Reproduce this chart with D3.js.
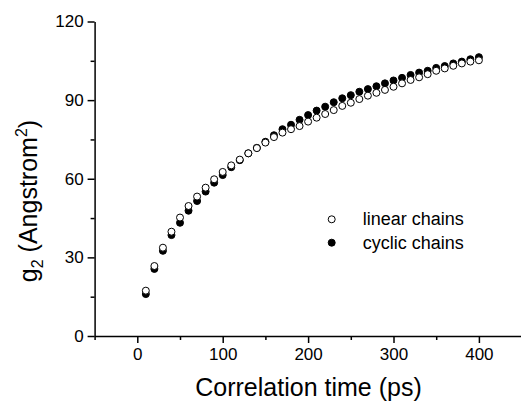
<!DOCTYPE html>
<html>
<head>
<meta charset="utf-8">
<script src="https://cdn.jsdelivr.net/npm/d3@7"></script>
<style>
    body { margin: 0; background: white; }
    text { font-family: Arial, "Liberation Sans", sans-serif; fill: black; }
</style>
</head>
<body>
<div id="wrapper"></div>
<script>
// correlation time (ps)
const times = [10, 20, 30, 40, 50, 60, 70, 80, 90, 100,
    110, 120, 130, 140, 150, 160, 170, 180, 190, 200,
    210, 220, 230, 240, 250, 260, 270, 280, 290, 300,
    310, 320, 330, 340, 350, 360, 370, 380, 390, 400];
// g2 values
const linearChains = [17.3, 26.7, 33.7, 39.8, 45.2, 49.6, 53.2, 56.6, 59.8, 62.6,
    65.1, 67.3, 69.7, 71.7, 73.8, 75.9, 77.6, 78.9, 80.1, 81.8,
    83.3, 84.7, 86.2, 87.8, 89.0, 90.4, 91.7, 92.8, 93.9, 95.1,
    96.4, 97.7, 98.7, 99.9, 101.2, 102.1, 103.1, 104.0, 104.7, 105.2];
const cyclicChains = [16.0, 25.6, 32.5, 38.5, 43.2, 47.8, 51.5, 55.1, 58.5, 61.4,
    64.4, 67.1, 69.7, 71.8, 74.1, 76.6, 78.9, 80.6, 82.5, 84.3,
    86.0, 87.5, 89.2, 90.7, 91.9, 93.2, 94.2, 95.3, 96.4, 97.5,
    98.5, 99.6, 100.5, 101.2, 102.3, 103.0, 104.0, 104.7, 105.6, 106.4];
const xTicks = [0, 100, 200, 300, 400];
const xMinorTicks = [-50, 50, 150, 250, 350, 450];
const yTicks = [0, 30, 60, 90, 120];
const yMinorTicks = [15, 45, 75, 105];
const seriesNames = ["linear chains", "cyclic chains"];

function buildPlot() {
    const dimension = {
        width: 521,
        height: 401,
        left: 94.6,
        right: 521.6,
        top: 21.5,
        bottom: 336
    };

    const svg = d3.select("#wrapper").append("svg")
        .attr("width", dimension.width)
        .attr("height", dimension.height);

    const xScaler = d3.scaleLinear()
        .domain([-50, 450])
        .range([dimension.left, dimension.right]);

    const yScaler = d3.scaleLinear()
        .domain([0, 120])
        .range([dimension.bottom, dimension.top]);

    // minor ticks first, then major axis on top
    const xMinor = svg.append("g")
        .attr("transform", `translate(0,${dimension.bottom})`)
        .call(d3.axisBottom(xScaler).tickValues(xMinorTicks).tickSize(4).tickFormat(""));
    const yMinor = svg.append("g")
        .attr("transform", `translate(${dimension.left},0)`)
        .call(d3.axisLeft(yScaler).tickValues(yMinorTicks).tickSize(4).tickFormat(""));

    const xAxis = svg.append("g")
        .attr("transform", `translate(0,${dimension.bottom})`)
        .call(d3.axisBottom(xScaler).tickValues(xTicks).tickSize(7).tickSizeOuter(0).tickPadding(5));
    const yAxis = svg.append("g")
        .attr("transform", `translate(${dimension.left},0)`)
        .call(d3.axisLeft(yScaler).tickValues(yTicks).tickSize(7).tickSizeOuter(0).tickPadding(4));

    svg.selectAll(".domain, .tick line")
        .attr("stroke", "black")
        .attr("stroke-width", 1.5);
    [xMinor, yMinor].forEach(g => g.select(".domain").remove());
    svg.selectAll(".tick text")
        .style("font-size", "17px")
        .style("font-family", "Arial, 'Liberation Sans', sans-serif")
        .attr("fill", "black");

    // axis titles
    svg.append("text")
        .attr("x", 308.5)
        .attr("y", 396)
        .attr("text-anchor", "middle")
        .style("font-size", "25px")
        .text("Correlation time (ps)");

    const yTitle = svg.append("text")
        .attr("transform", "translate(37,201) rotate(-90)")
        .attr("text-anchor", "middle")
        .style("font-size", "25px");
    yTitle.append("tspan").text("g");
    yTitle.append("tspan").attr("dy", 6).style("font-size", "16px").text("2");
    yTitle.append("tspan").attr("dy", -6).text(" (Angstrom");
    yTitle.append("tspan").attr("dy", -10).style("font-size", "16px").text("2");
    yTitle.append("tspan").attr("dy", 10).text(")");

    // cyclic chains under, linear chains over
    const cyclicData = times.map((t, i) => ({ x: t, y: cyclicChains[i] }));
    const linearData = times.map((t, i) => ({ x: t, y: linearChains[i] }));

    svg.append("g").selectAll("circle")
        .data(cyclicData)
        .enter()
        .append("circle")
        .attr("cx", d => xScaler(d.x))
        .attr("cy", d => yScaler(d.y))
        .attr("r", 3.5)
        .attr("fill", "black")
        .attr("stroke", "black")
        .attr("stroke-width", 1);

    svg.append("g").selectAll("circle")
        .data(linearData)
        .enter()
        .append("circle")
        .attr("cx", d => xScaler(d.x))
        .attr("cy", d => yScaler(d.y))
        .attr("r", 3.5)
        .attr("fill", "white")
        .attr("stroke", "black")
        .attr("stroke-width", 1);

    // legend
    const legend = svg.append("g").attr("transform", "translate(331.7,219.3)");
    seriesNames.forEach((name, i) => {
        legend.append("circle")
            .attr("cx", 0)
            .attr("cy", i * 23.4)
            .attr("r", 3.5)
            .attr("fill", i === 0 ? "white" : "black")
            .attr("stroke", "black")
            .attr("stroke-width", 1);
        legend.append("text")
            .attr("x", 31)
            .attr("y", i * 23.4 + 6)
            .style("font-size", "18px")
            .text(name);
    });
}

buildPlot()
</script>
</body>
</html>
